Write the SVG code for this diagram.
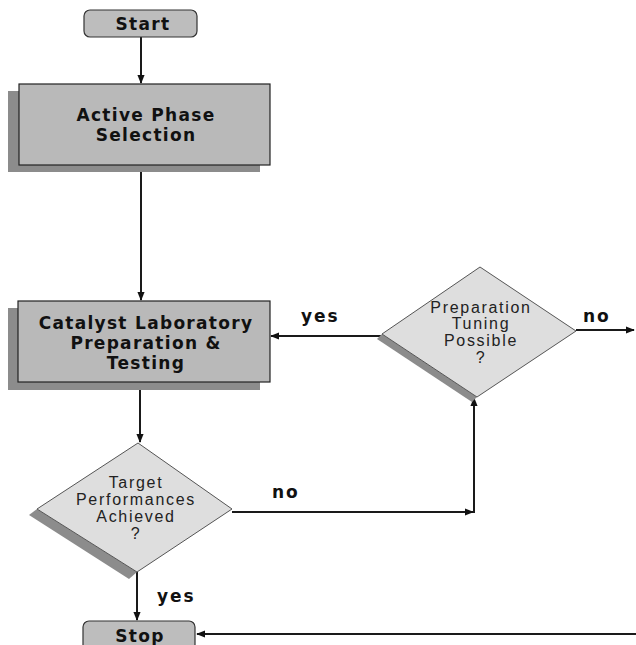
<svg xmlns="http://www.w3.org/2000/svg" width="636" height="645" viewBox="0 0 636 645">
  <style>
    .term { fill: #bdbdbd; stroke: #333; stroke-width: 1.2; }
    .proc { fill: #b9b9b9; stroke: #222; stroke-width: 1.2; }
    .shadow { fill: #8c8c8c; }
    .dec { fill: #dedede; stroke: #555; stroke-width: 1; }
    .bold { font-family: "DejaVu Sans", Verdana, sans-serif; font-weight: bold; font-size: 17px; letter-spacing: 1.3px; fill: #111; text-anchor: middle; }
    .reg { font-family: "Liberation Sans", Arial, sans-serif; font-size: 16px; letter-spacing: 1.7px; fill: #222; text-anchor: middle; }
    .lbl { font-family: "DejaVu Sans", Verdana, sans-serif; font-weight: bold; font-size: 17px; letter-spacing: 2px; fill: #111; }
    .conn { fill: none; stroke: #1a1a1a; stroke-width: 2; }
  </style>
  <defs>
    <marker id="arrow" viewBox="0 0 10 10" refX="9" refY="5" markerWidth="4.5" markerHeight="4.5" orient="auto">
      <path d="M0,1 L10,5 L0,9 z" fill="#111"/>
    </marker>
  </defs>

  <rect width="636" height="645" fill="#fff"/>

  <!-- connectors -->
  <g id="connectors">
    <line class="conn" x1="141" y1="37" x2="141" y2="83" marker-end="url(#arrow)"/>
    <line class="conn" x1="141" y1="165" x2="141" y2="300" marker-end="url(#arrow)"/>
    <line class="conn" x1="140" y1="382" x2="140" y2="442" marker-end="url(#arrow)"/>
    <line class="conn" x1="382" y1="336" x2="271" y2="336" marker-end="url(#arrow)"/>
    <line class="conn" x1="576" y1="330" x2="634" y2="330" marker-end="url(#arrow)"/>
    <line class="conn" x1="232" y1="512" x2="473" y2="512" marker-end="url(#arrow)"/>
    <line class="conn" x1="474" y1="513" x2="474" y2="398" marker-end="url(#arrow)"/>
    <line class="conn" x1="137" y1="572" x2="137" y2="620" marker-end="url(#arrow)"/>
    <line class="conn" x1="636" y1="634" x2="197" y2="634" marker-end="url(#arrow)"/>
    <text class="lbl" x="272" y="498">no</text>
    <text class="lbl" x="301" y="322">yes</text>
    <text class="lbl" x="583" y="322">no</text>
    <text class="lbl" x="157" y="602">yes</text>
  </g>

  <!-- terminal: start -->
  <g id="start">
    <rect class="term" x="84" y="10" width="113" height="27" rx="6"/>
    <text class="bold" x="143" y="30">Start</text>
  </g>

  <!-- process: active phase selection -->
  <g id="active-phase">
    <rect class="shadow" x="8" y="91" width="252" height="81"/>
    <rect class="proc" x="19" y="84" width="251" height="81"/>
    <text class="bold" x="146" y="121">Active Phase</text>
    <text class="bold" x="146" y="141">Selection</text>
  </g>

  <!-- process: laboratory preparation and testing -->
  <g id="lab-testing">
    <rect class="shadow" x="8" y="308" width="252" height="82"/>
    <rect class="proc" x="18" y="301" width="252" height="81"/>
    <text class="bold" x="146" y="329">Catalyst Laboratory</text>
    <text class="bold" x="146" y="349">Preparation &amp;</text>
    <text class="bold" x="146" y="369">Testing</text>
  </g>

  <!-- decision: target performances -->
  <g id="target-decision">
    <polygon class="shadow" points="37,509 29,515 129,579 137,572"/>
    <polygon class="dec" points="138,443 232,509 137,572 37,509"/>
    <text class="reg" x="136" y="488">Target</text>
    <text class="reg" x="136" y="505">Performances</text>
    <text class="reg" x="136" y="522">Achieved</text>
    <text class="reg" x="136" y="539">?</text>
  </g>

  <!-- decision: preparation tuning -->
  <g id="tuning-decision">
    <polygon class="shadow" points="382,334 377,339 472,402 477,397"/>
    <polygon class="dec" points="480,267 576,331 477,397 382,334"/>
    <text class="reg" x="481" y="313">Preparation</text>
    <text class="reg" x="481" y="329">Tuning</text>
    <text class="reg" x="481" y="346">Possible</text>
    <text class="reg" x="481" y="363">?</text>
  </g>

  <!-- terminal: stop -->
  <g id="stop">
    <rect class="term" x="83" y="621" width="112" height="34" rx="6"/>
    <text class="bold" x="140" y="642">Stop</text>
  </g>
</svg>
